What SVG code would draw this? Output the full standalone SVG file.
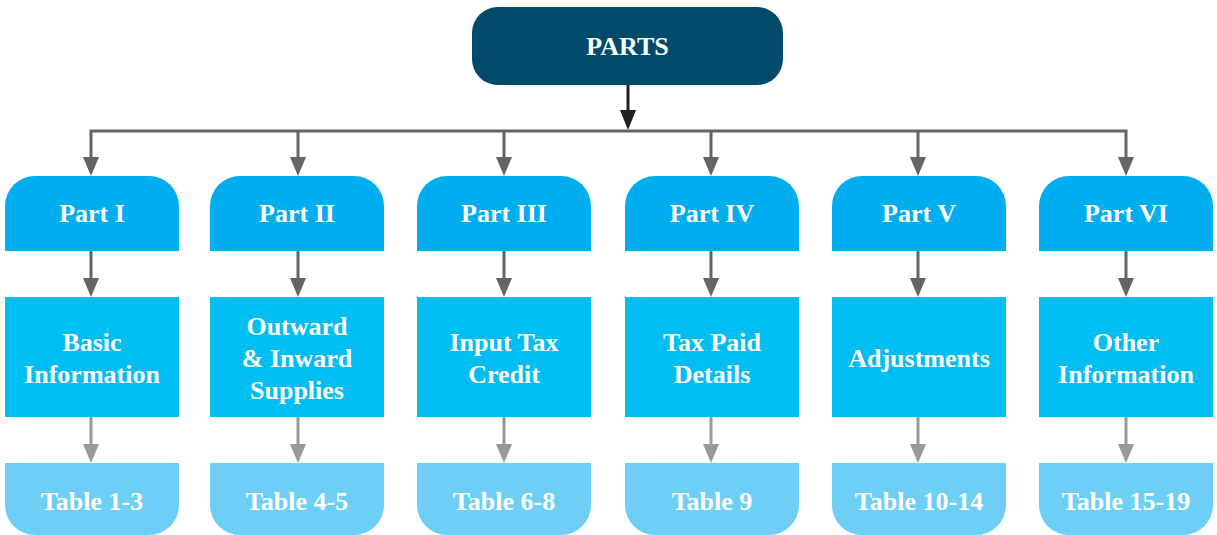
<svg xmlns="http://www.w3.org/2000/svg" width="1217" height="535" viewBox="0 0 1217 535">
<defs>
<style>
.lbl{font-family:"Liberation Serif","Times New Roman",serif;font-weight:bold;font-size:26px;fill:#ffffff;text-anchor:middle}
.hdr{fill:#00aeef}
.mid{fill:#00bdf2}
.tbl{fill:#6dcff6}
.c1{stroke:#636466;stroke-width:3;fill:none}
.c2{stroke:#98999c;stroke-width:3;fill:none}
</style>
</defs>
<rect width="1217" height="535" fill="#ffffff"/>
<g id="connectors">
<line x1="628" y1="85" x2="628" y2="112" stroke="#231f20" stroke-width="3"/>
<path d="M620,110 L636,110 L628,130 Z" fill="#231f20"/>
<path class="c1" d="M91,161 V131 H1126 V161"/>
<g>
<line class="c1" x1="298" y1="131" x2="298" y2="161"/>
<line class="c1" x1="504" y1="131" x2="504" y2="161"/>
<line class="c1" x1="711" y1="131" x2="711" y2="161"/>
<line class="c1" x1="918" y1="131" x2="918" y2="161"/>
</g>
<g fill="#636466">
<path d="M83,157 L99,157 L91,176 Z"/>
<path d="M290,157 L306,157 L298,176 Z"/>
<path d="M496,157 L512,157 L504,176 Z"/>
<path d="M703,157 L719,157 L711,176 Z"/>
<path d="M910,157 L926,157 L918,176 Z"/>
<path d="M1118,157 L1134,157 L1126,176 Z"/>
</g>
<g>
<line class="c1" x1="91" y1="251" x2="91" y2="282"/>
<line class="c1" x1="298" y1="251" x2="298" y2="282"/>
<line class="c1" x1="504" y1="251" x2="504" y2="282"/>
<line class="c1" x1="711" y1="251" x2="711" y2="282"/>
<line class="c1" x1="918" y1="251" x2="918" y2="282"/>
<line class="c1" x1="1126" y1="251" x2="1126" y2="282"/>
</g>
<g fill="#636466">
<path d="M83,278 L99,278 L91,297 Z"/>
<path d="M290,278 L306,278 L298,297 Z"/>
<path d="M496,278 L512,278 L504,297 Z"/>
<path d="M703,278 L719,278 L711,297 Z"/>
<path d="M910,278 L926,278 L918,297 Z"/>
<path d="M1118,278 L1134,278 L1126,297 Z"/>
</g>
<g>
<line class="c2" x1="91" y1="417" x2="91" y2="448"/>
<line class="c2" x1="298" y1="417" x2="298" y2="448"/>
<line class="c2" x1="504" y1="417" x2="504" y2="448"/>
<line class="c2" x1="711" y1="417" x2="711" y2="448"/>
<line class="c2" x1="918" y1="417" x2="918" y2="448"/>
<line class="c2" x1="1126" y1="417" x2="1126" y2="448"/>
</g>
<g fill="#98999c">
<path d="M83,444 L99,444 L91,463 Z"/>
<path d="M290,444 L306,444 L298,463 Z"/>
<path d="M496,444 L512,444 L504,463 Z"/>
<path d="M703,444 L719,444 L711,463 Z"/>
<path d="M910,444 L926,444 L918,463 Z"/>
<path d="M1118,444 L1134,444 L1126,463 Z"/>
</g>
</g>
<g id="parts">
<rect x="472" y="7" width="311" height="78" rx="26" ry="26" fill="#004b6c"/>
<text class="lbl" x="627.5" y="55">PARTS</text>
</g>
<g id="part1">
<path class="hdr" d="M5,251 V206 A30,30 0 0 1 35,176 H149 A30,30 0 0 1 179,206 V251 Z"/>
<text class="lbl" x="92" y="222">Part I</text>
</g>
<g id="part2">
<path class="hdr" d="M210,251 V206 A30,30 0 0 1 240,176 H354 A30,30 0 0 1 384,206 V251 Z"/>
<text class="lbl" x="297" y="222">Part II</text>
</g>
<g id="part3">
<path class="hdr" d="M417,251 V206 A30,30 0 0 1 447,176 H561 A30,30 0 0 1 591,206 V251 Z"/>
<text class="lbl" x="504" y="222">Part III</text>
</g>
<g id="part4">
<path class="hdr" d="M625,251 V206 A30,30 0 0 1 655,176 H769 A30,30 0 0 1 799,206 V251 Z"/>
<text class="lbl" x="712" y="222">Part IV</text>
</g>
<g id="part5">
<path class="hdr" d="M832,251 V206 A30,30 0 0 1 862,176 H976 A30,30 0 0 1 1006,206 V251 Z"/>
<text class="lbl" x="919" y="222">Part V</text>
</g>
<g id="part6">
<path class="hdr" d="M1039,251 V206 A30,30 0 0 1 1069,176 H1183 A30,30 0 0 1 1213,206 V251 Z"/>
<text class="lbl" x="1126" y="222">Part VI</text>
</g>
<g id="desc1">
<rect class="mid" x="5" y="297" width="174" height="120"/>
<text class="lbl" x="92" y="351">Basic</text>
<text class="lbl" x="92" y="383">Information</text>
</g>
<g id="desc2">
<rect class="mid" x="210" y="297" width="174" height="120"/>
<text class="lbl" x="297" y="335">Outward</text>
<text class="lbl" x="297" y="367">&amp; Inward</text>
<text class="lbl" x="297" y="399">Supplies</text>
</g>
<g id="desc3">
<rect class="mid" x="417" y="297" width="174" height="120"/>
<text class="lbl" x="504" y="351">Input Tax</text>
<text class="lbl" x="504" y="383">Credit</text>
</g>
<g id="desc4">
<rect class="mid" x="625" y="297" width="174" height="120"/>
<text class="lbl" x="712" y="351">Tax Paid</text>
<text class="lbl" x="712" y="383">Details</text>
</g>
<g id="desc5">
<rect class="mid" x="832" y="297" width="174" height="120"/>
<text class="lbl" x="919" y="367">Adjustments</text>
</g>
<g id="desc6">
<rect class="mid" x="1039" y="297" width="174" height="120"/>
<text class="lbl" x="1126" y="351">Other</text>
<text class="lbl" x="1126" y="383">Information</text>
</g>
<g id="table1">
<path class="tbl" d="M5,463 H179 V505 A30,30 0 0 1 149,535 H35 A30,30 0 0 1 5,505 Z"/>
<text class="lbl" x="92" y="510">Table 1-3</text>
</g>
<g id="table2">
<path class="tbl" d="M210,463 H384 V505 A30,30 0 0 1 354,535 H240 A30,30 0 0 1 210,505 Z"/>
<text class="lbl" x="297" y="510">Table 4-5</text>
</g>
<g id="table3">
<path class="tbl" d="M417,463 H591 V505 A30,30 0 0 1 561,535 H447 A30,30 0 0 1 417,505 Z"/>
<text class="lbl" x="504" y="510">Table 6-8</text>
</g>
<g id="table4">
<path class="tbl" d="M625,463 H799 V505 A30,30 0 0 1 769,535 H655 A30,30 0 0 1 625,505 Z"/>
<text class="lbl" x="712" y="510">Table 9</text>
</g>
<g id="table5">
<path class="tbl" d="M832,463 H1006 V505 A30,30 0 0 1 976,535 H862 A30,30 0 0 1 832,505 Z"/>
<text class="lbl" x="919" y="510">Table 10-14</text>
</g>
<g id="table6">
<path class="tbl" d="M1039,463 H1213 V505 A30,30 0 0 1 1183,535 H1069 A30,30 0 0 1 1039,505 Z"/>
<text class="lbl" x="1126" y="510">Table 15-19</text>
</g>
</svg>
